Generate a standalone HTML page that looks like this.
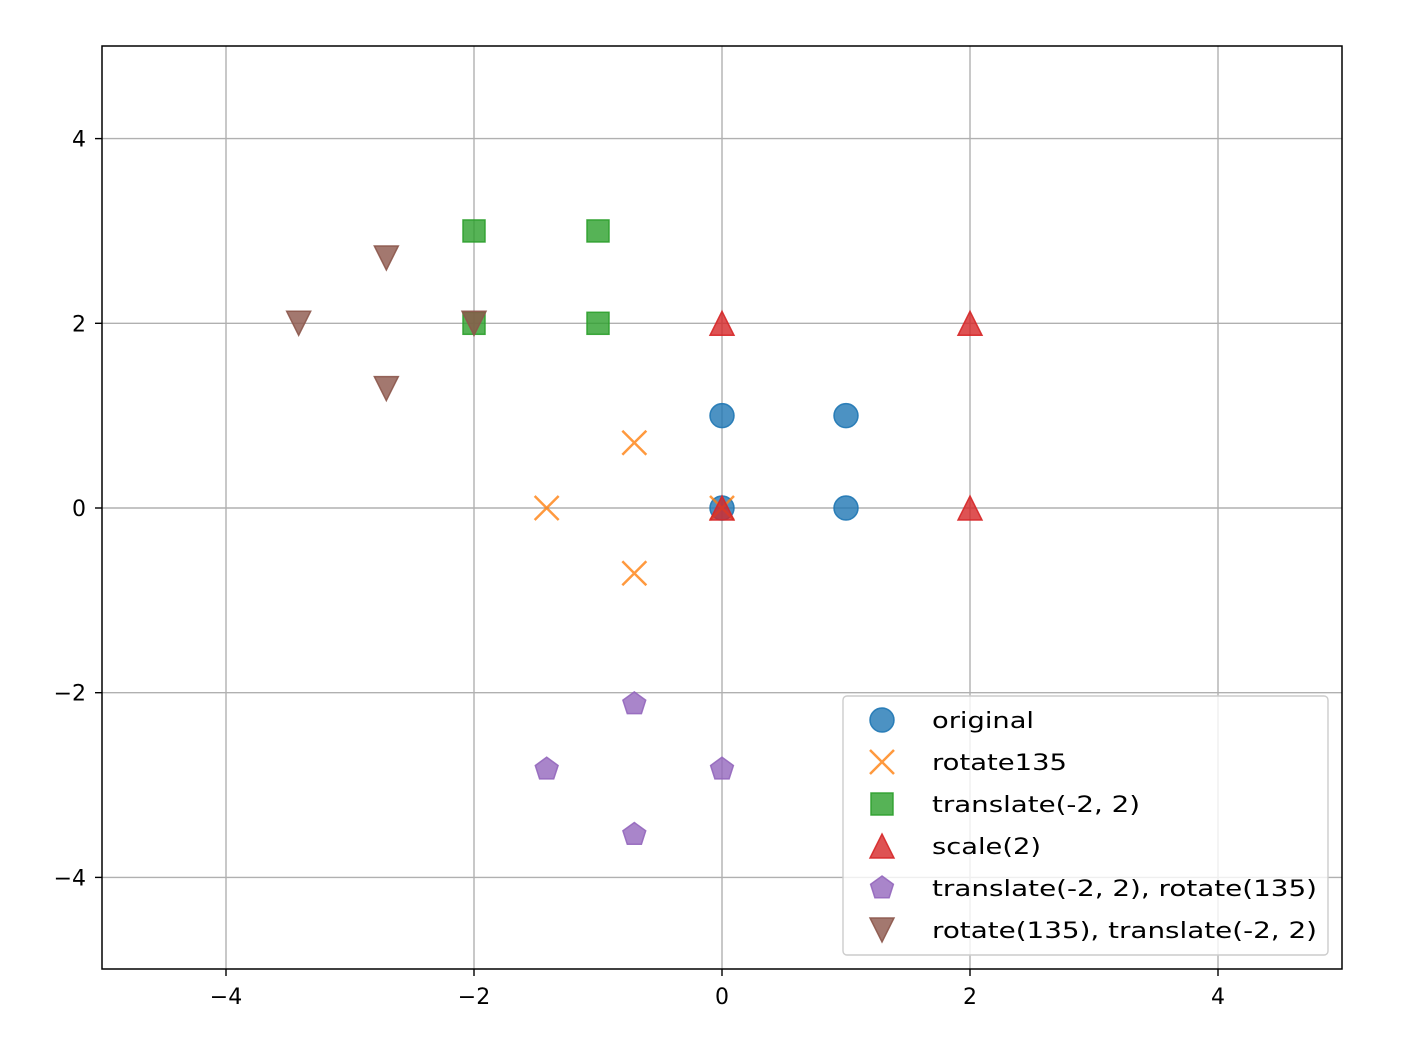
<!DOCTYPE html>
<html><head><meta charset="utf-8"><style>
body{margin:0;background:#fff}
text{font-family:"DejaVu Sans","Liberation Sans",sans-serif}
</style></head><body>
<svg id="chart" width="1416" height="1052" xmlns="http://www.w3.org/2000/svg">
<rect x="0" y="0" width="1416" height="1052" fill="#fff"/>
<g id="grid"></g>
<g id="marks"></g>
<rect x="102" y="46" width="1240" height="923" fill="none" stroke="#000" stroke-width="1.5"/>
<g id="ticks"></g>
<g id="legend"></g>
</svg>
<script>
const xTicks=[-4,-2,0,2,4];
const yTicks=[-4,-2,0,2,4];
const seriesNames=["original","rotate135","translate(-2, 2)","scale(2)","translate(-2, 2), rotate(135)","rotate(135), translate(-2, 2)"];
const seriesColors=["#1f77b4","#ff7f0e","#2ca02c","#d62728","#9467bd","#8c564b"];
const seriesMarkers=["circle","x","square","tri-up","pentagon","tri-down"];
const originalX=[0,1,1,0];const originalY=[0,0,1,1];
const rotateX=[0,-0.707,-1.414,-0.707];const rotateY=[0,0.707,0,-0.707];
const translateX=[-2,-1,-1,-2];const translateY=[2,2,3,3];
const scaleX=[0,2,2,0];const scaleY=[0,0,2,2];
const trRotX=[0,-0.707,-1.414,-0.707];const trRotY=[-2.828,-2.121,-2.828,-3.536];
const rotTrX=[-2,-2.707,-3.414,-2.707];const rotTrY=[2,2.707,2,1.293];
const allX=[originalX,rotateX,translateX,scaleX,trRotX,rotTrX];
const allY=[originalY,rotateY,translateY,scaleY,trRotY,rotTrY];
const NS="http://www.w3.org/2000/svg";
const sx=v=>722+v*124;
const sy=v=>508-v*92.35;
function mk(tag,attrs,parent){const e=document.createElementNS(NS,tag);for(const k in attrs)e.setAttribute(k,attrs[k]);parent.appendChild(e);return e;}
const grid=document.getElementById('grid'),ticks=document.getElementById('ticks'),marks=document.getElementById('marks'),legend=document.getElementById('legend');
xTicks.forEach(t=>{
 const l=mk('line',{x1:sx(t),x2:sx(t),y1:46,y2:969,stroke:'#b0b0b0','stroke-width':1.4},grid);
 
 
 mk('line',{x1:sx(t),x2:sx(t),y1:969,y2:976,stroke:'#000','stroke-width':1.4},ticks);
 const tx=mk('text',{x:sx(t),y:1004,'text-anchor':'middle','font-size':22},ticks);
 tx.textContent=(t<0?'\u2212'+(-t):t);
 
 
});
yTicks.forEach(t=>{
 const l=mk('line',{x1:102,x2:1342,y1:sy(t),y2:sy(t),stroke:'#b0b0b0','stroke-width':1.4},grid);
 
 
 mk('line',{x1:95,x2:102,y1:sy(t),y2:sy(t),stroke:'#000','stroke-width':1.4},ticks);
 const tx=mk('text',{x:86,y:sy(t)+8,'text-anchor':'end','font-size':22},ticks);
 tx.textContent=(t<0?'\u2212'+(-t):t);
 
 
});
function marker(type,x,y,c,parent){
 const s=12;let e;
 const st={fill:c,'fill-opacity':0.8,stroke:c,'stroke-opacity':0.9,'stroke-width':1.5};
 if(type==='circle')e=mk('circle',Object.assign({cx:x,cy:y,r:s},st),parent);
 else if(type==='square')e=mk('rect',Object.assign({x:x-s+1,y:y-s+1,width:2*s-2,height:2*s-2},st),parent);
 else if(type==='x')e=mk('path',{d:`M${x-s} ${y-s}L${x+s} ${y+s}M${x-s} ${y+s}L${x+s} ${y-s}`,stroke:c,'stroke-opacity':0.8,'stroke-width':2.5,fill:'none'},parent);
 else if(type==='tri-up')e=mk('path',Object.assign({d:`M${x} ${y-s}L${x+s} ${y+s}L${x-s} ${y+s}Z`},st),parent);
 else if(type==='tri-down')e=mk('path',Object.assign({d:`M${x} ${y+s}L${x+s} ${y-s}L${x-s} ${y-s}Z`},st),parent);
 else{let p=[];for(let i=0;i<5;i++){const a=-Math.PI/2+i*2*Math.PI/5;p.push((x+s*Math.cos(a)).toFixed(1)+' '+(y+s*Math.sin(a)).toFixed(1));}e=mk('path',Object.assign({d:'M'+p.join('L')+'Z'},st),parent);}
 return e;
}
seriesNames.forEach((n,i)=>{
 allX[i].forEach((v,j)=>{
  const e=marker(seriesMarkers[i],sx(v),sy(allY[i][j]),seriesColors[i],marks);
  
  
 });
});
const legendWidths=[102,135,208,109,385,385];
const lb=mk('rect',{x:843,y:696,width:485,height:259,rx:4,fill:'#fff','fill-opacity':0.8,stroke:'#ccc','stroke-width':1.4},legend);


seriesNames.forEach((n,i)=>{
 const y=720+i*42;
 const m=marker(seriesMarkers[i],882,y,seriesColors[i],legend);
 
 
 const t=mk('text',{x:932,y:y+8,'font-size':22,textLength:legendWidths[i],lengthAdjust:'spacingAndGlyphs'},legend);
 t.textContent=n;
 
 
});
</script>
</body></html>
